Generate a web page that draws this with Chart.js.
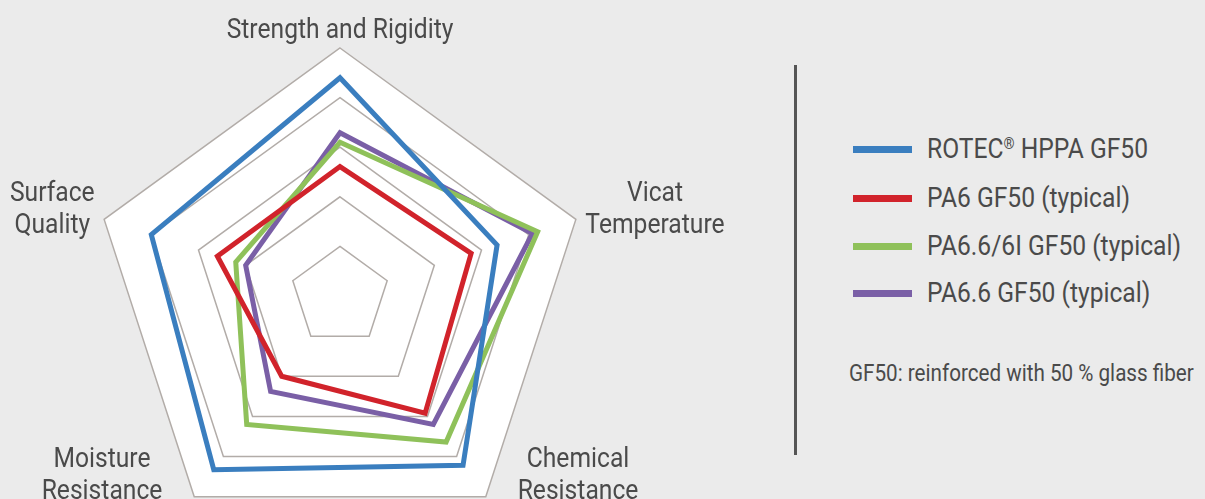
<!DOCTYPE html>
<html>
<head>
<meta charset="utf-8">
<script src="https://cdn.jsdelivr.net/npm/chart.js@4/dist/chart.umd.min.js"></script>
<style>
  html, body { margin: 0; padding: 0; }
  body { width: 1205px; height: 499px; overflow: hidden; background: #ebebeb; position: relative;
         font-family: Roboto, "Liberation Sans", sans-serif; color: #4a4a4a; }
  #wrap { position: absolute; left: 0; top: 0; width: 760px; height: 560px; }
  #sep { position: absolute; left: 794px; top: 65px; width: 3px; height: 390px; background: #555; }
  #legend { position: absolute; left: 853px; top: 0; }
  .item { position: absolute; left: 0; white-space: nowrap; font-size: 28px; line-height: 30px; }
  .item span.mark { position: absolute; left: 0; top: 12px; width: 59px; height: 7px; }
  .item span.txt { position: absolute; left: 74px; top: 0; transform: scaleX(0.88); transform-origin: 0 0; }
  .item sup { font-size: 16px; vertical-align: 9px; line-height: 0; }
  #note { position: absolute; left: 849px; top: 359px; font-size: 24px; white-space: nowrap;
          transform: scaleX(0.86); transform-origin: 0 0; }
</style>
</head>
<body>
<div id="wrap"><canvas id="radar" width="760" height="560"></canvas></div>
<div id="sep"></div>
<div id="legend"></div>
<div id="note">GF50: reinforced with 50 % glass fiber</div>
<script>
// axis labels
const categories = ['Strength and Rigidity', ['Vicat', 'Temperature'], ['Chemical', 'Resistance'], ['Moisture', 'Resistance'], ['Surface', 'Quality']];

// series
const seriesNames = ['ROTEC® HPPA GF50', 'PA6 GF50 (typical)', 'PA6.6/6I GF50 (typical)', 'PA6.6 GF50 (typical)'];
const rotec = [4.4, 3.33, 4.22, 4.33, 4.0];
const pa6 = [2.61, 2.78, 2.92, 2.0, 2.6];
const pa66_6i = [3.1, 4.19, 3.64, 3.2, 2.21];
const pa66 = [3.29, 4.08, 3.2, 2.38, 2.0];
const colors = ['#3a7ebf', '#d1232b', '#8fc15a', '#7a5fa6'];

// scale
const scaleMin = 0;
const scaleMax = 5;
const scaleStep = 1;

// condensed look: Roboto squeezed a bit
const labelFont = '28px Roboto, "Liberation Sans", sans-serif';
const squeeze = 0.88;
const lineGap = 32;

// draws the axis names next to each corner of the outer ring
const axisLabels = {
    id: 'axisLabels',
    afterDraw(chart) {
        const scale = chart.scales.r;
        const ctx = chart.ctx;
        ctx.save();
        ctx.font = labelFont;
        ctx.fillStyle = '#4a4a4a';
        ctx.textAlign = 'center';
        ctx.textBaseline = 'alphabetic';
        const capH = 20;
        categories.forEach((lab, i) => {
            const lines = Array.isArray(lab) ? lab : [lab];
            const w = Math.max(...lines.map(l => ctx.measureText(l).width)) * squeeze;
            const p = scale.getPointPosition(i, scale.drawingArea + 10);
            const dx = p.x - scale.xCenter;
            const dy = p.y - scale.yCenter;
            let x, first;
            if (Math.abs(dx) < 1) {
                x = p.x;
                first = p.y - (lines.length - 1) * lineGap;
            } else if (dy < 0) {
                x = p.x + Math.sign(dx) * w / 2;
                first = p.y - 9 - (lines.length - 1) * lineGap / 2 + capH / 2;
            } else {
                x = p.x + Math.sign(dx) * (w / 2 + 26);
                first = p.y - 32 - (lines.length - 1) * lineGap / 2 + capH / 2;
            }
            lines.forEach((l, k) => {
                ctx.save();
                ctx.translate(x, first + k * lineGap);
                ctx.scale(squeeze, 1);
                ctx.fillText(l, 0, 0);
                ctx.restore();
            });
        });
        ctx.restore();
    }
};

const values = [rotec, pa6, pa66_6i, pa66];

const ctx = document.getElementById('radar').getContext('2d');
const radar = new Chart(ctx, {
    type: 'radar',
    data: {
        labels: categories,
        datasets: values.map((v, i) => ({
            label: seriesNames[i],
            data: v,
            borderColor: colors[i],
            backgroundColor: colors[i],
            borderWidth: 5,
            borderJoinStyle: 'miter',
            fill: false,
            pointRadius: 0,
            pointHoverRadius: 0,
            tension: 0
        }))
    },
    plugins: [axisLabels],
    options: {
        responsive: false,
        animation: false,
        layout: { padding: { left: 92, top: 48, right: 172, bottom: 16 } },
        plugins: { legend: { display: false }, tooltip: { enabled: false } },
        scales: {
            r: {
                min: scaleMin,
                max: scaleMax,
                backgroundColor: '#ffffff',
                ticks: { stepSize: scaleStep, display: false },
                grid: { circular: false, color: '#b2aca8', lineWidth: 1.5 },
                angleLines: { display: false },
                pointLabels: { display: false }
            }
        }
    }
});

// legend on the right
const legend = document.getElementById('legend');
const rowTops = [134, 183, 231, 278];
seriesNames.forEach((name, i) => {
    const row = document.createElement('div');
    row.className = 'item';
    row.style.top = rowTops[i] + 'px';
    const mark = document.createElement('span');
    mark.className = 'mark';
    mark.style.background = colors[i];
    const txt = document.createElement('span');
    txt.className = 'txt';
    txt.innerHTML = name.replace('®', '<sup>®</sup>');
    row.appendChild(mark);
    row.appendChild(txt);
    legend.appendChild(row);
});
</script>
</body>
</html>
